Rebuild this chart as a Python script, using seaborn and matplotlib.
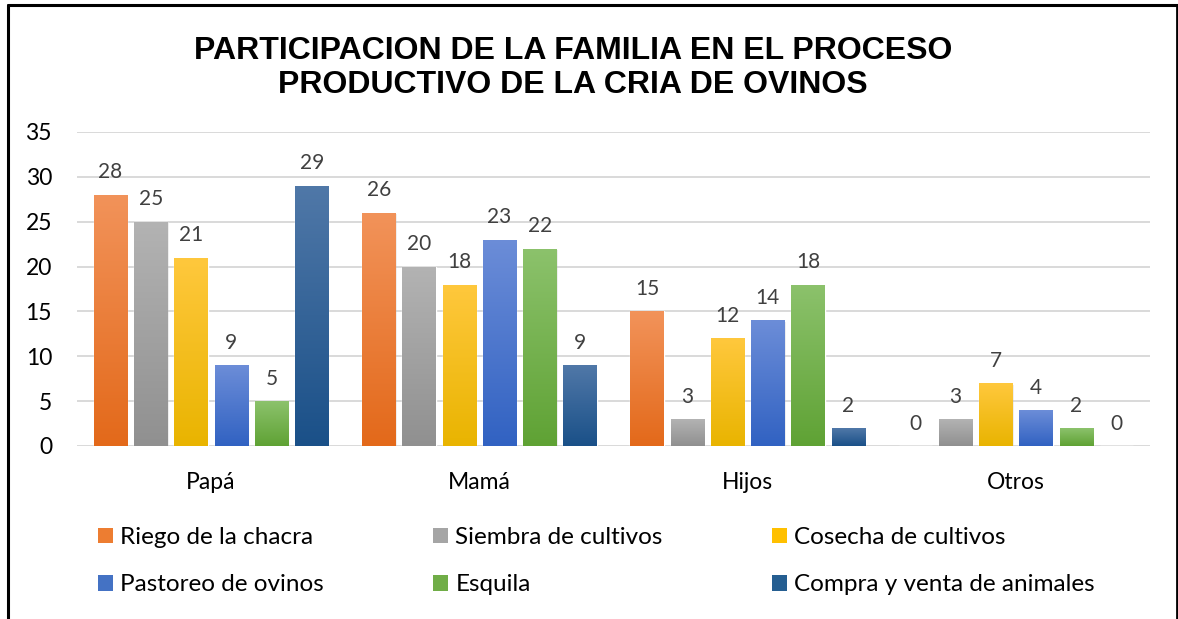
import numpy as np
import pandas as pd
import matplotlib
matplotlib.use("Agg")
import matplotlib.pyplot as plt
from matplotlib.colors import LinearSegmentedColormap
from matplotlib.patches import Patch
from matplotlib.lines import Line2D
import seaborn as sns

categories = ["Papá", "Mamá", "Hijos", "Otros"]
series_names = ["Riego de la chacra", "Siembra de cultivos", "Cosecha de cultivos",
                "Pastoreo de ovinos", "Esquila", "Compra y venta de animales"]
riego = [28, 26, 15, 0]
siembra = [25, 20, 3, 3]
cosecha = [21, 18, 12, 7]
pastoreo = [9, 23, 14, 4]
esquila = [5, 22, 18, 2]
compra = [29, 9, 2, 0]
yticks = [0, 5, 10, 15, 20, 25, 30, 35]

series_values = [riego, siembra, cosecha, pastoreo, esquila, compra]
top_colors = ["#F2935A", "#B3B3B3", "#FFC83D", "#6C8DD8", "#8CC26C", "#5078A8"]
bot_colors = ["#E3691A", "#909090", "#E9B400", "#3162C2", "#5FA234", "#1A5088"]
mid_colors = ["#ED7D31", "#A5A5A5", "#FFC000", "#4472C4", "#70AD47", "#255E91"]

rows = []
for name, vals in zip(series_names, series_values):
    for c, v in zip(categories, vals):
        rows.append({"cat": c, "serie": name, "val": v})
df = pd.DataFrame(rows)

sns.set_theme(style="white")
plt.rcParams["font.family"] = ["Lato", "DejaVu Sans"]
plt.rcParams["text.color"] = "black"

W, H = 1178, 619
fig = plt.figure(figsize=(W / 100, H / 100), dpi=100)
ax = fig.add_axes([77 / W, 1 - 446 / H, (1150 - 77) / W, (446 - 132) / H])

sns.barplot(data=df, x="cat", y="val", hue="serie", order=categories,
            hue_order=series_names, palette=mid_colors, width=0.9, gap=0.17,
            ax=ax, legend=False, errorbar=None, saturation=1)

ax.set_ylim(0, 35)
ax.set_xlim(-0.5, 3.5)
ax.set_yticks(yticks)
ax.set_yticklabels([str(t) for t in yticks])
ax.yaxis.grid(True, color="#D9D9D9", linewidth=1.4)
ax.set_axisbelow(True)
for s in ax.spines.values():
    s.set_visible(False)
ax.tick_params(axis="both", length=0, colors="#000000")
ax.tick_params(axis="x", pad=19, labelsize=16.5)
ax.tick_params(axis="y", pad=18, labelsize=16.5)
for lab in ax.get_yticklabels():
    lab.set_horizontalalignment("right")
ax.set_xlabel("")
ax.set_ylabel("")

# gradient fill for each bar
grad = np.linspace(1, 0, 256).reshape(-1, 1)
for i, cont in enumerate(ax.containers):
    cmap = LinearSegmentedColormap.from_list("g%d" % i, [bot_colors[i], top_colors[i]])
    for p in cont.patches:
        h = p.get_height()
        if h <= 0:
            continue
        x0 = p.get_x()
        w = p.get_width()
        sh = plt.Rectangle((x0 + 0.004, -0.15), w, h, facecolor="#000000", alpha=0.08,
                           edgecolor="none", zorder=p.get_zorder() - 0.1)
        ax.add_patch(sh)
        im = ax.imshow(grad, extent=[x0, x0 + w, 0, h], aspect="auto", cmap=cmap,
                       vmin=0, vmax=1, zorder=p.get_zorder() + 0.1, interpolation="bilinear")
        im.set_clip_path(p)
    ax.bar_label(cont, labels=[str(int(v)) for v in series_values[i]], padding=9,
                 fontsize=15, color="#404040")

ax.set_ylim(0, 35)
ax.set_xlim(-0.5, 3.5)

# title
fig.text(573 / W, 1 - 68 / H,
         "PARTICIPACION DE LA FAMILIA EN EL PROCESO\nPRODUCTIVO DE LA CRIA DE OVINOS",
         ha="center", va="center", fontsize=23, fontweight="bold", color="black",
         family=["Liberation Sans", "DejaVu Sans"], linespacing=1.15)

# legend: three columns, two rows
col_x = [98, 433, 772]
order = [[0, 3], [1, 4], [2, 5]]
for cx, idxs in zip(col_x, order):
    handles = [Patch(facecolor=mid_colors[k], edgecolor="none") for k in idxs]
    labels = [series_names[k] for k in idxs]
    fig.legend(handles, labels, loc="upper left",
               bbox_to_anchor=(cx / W, 1 - 527 / H), frameon=False,
               fontsize=17.5, handlelength=0.62, handleheight=0.62, handletextpad=0.3,
               labelspacing=1.08, borderaxespad=0, borderpad=0)

# chart frame
fig.add_artist(Line2D([8 / W, 8 / W], [0, 1 - 5 / H], transform=fig.transFigure,
                      color="black", linewidth=2.2))
fig.add_artist(Line2D([8 / W, 1], [1 - 5 / H, 1 - 5 / H], transform=fig.transFigure,
                      color="black", linewidth=2.2))
fig.add_artist(Line2D([1 - 1 / W, 1 - 1 / W], [0, 1 - 5 / H], transform=fig.transFigure,
                      color="black", linewidth=2.0))

fig.savefig("out.png", dpi=100, facecolor="white")
